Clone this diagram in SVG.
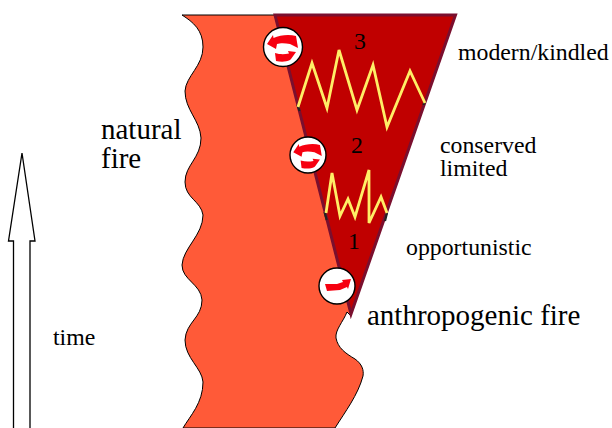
<svg xmlns="http://www.w3.org/2000/svg" width="612" height="428" viewBox="0 0 612 428">
<style>
text{font-family:"Liberation Serif","Times New Roman",serif;fill:#000}
.s{font-size:23.800px}.l{font-size:29px}.c{fill:#fff;stroke:#000;stroke-width:1.400}
.z{fill:none;stroke:#ffee66;stroke-width:2.800;stroke-linejoin:miter}
.a{fill:#f60010}
</style>
<defs>
<g id="cycle">
<path class="a" d="M-16-3 L-10-12 L-9.500-9 C-3-12 6-13 13-11 L15 1 L7-3 C2-4-3-4-6-3 L-7 2 Z"/>
<path class="a" d="M13 5 L5 4 L6 6.500 C1 7.500-3 7.500-8 6 L-7 14 C-2 15 3 15 7 13 L8 12 Z"/>
</g>
</defs>
<g id="natural-fire">
<path fill="#ff5a38" stroke="#000" stroke-width="1" d="M182 15 L285 15 L351 316 L347 312 C343 322 335 330 336 338 C338 348 345 353 355 359 C362 364 364 370 363 376 C358 395 345 412 335 428 L183 428 C190 416 203 403 203 382 C202 368 185 358 185 340 C186 322 202 318 202 300 C201 284 182 280 182 265 C183 248 203 235 203 215 C201 201 185 198 185 182 C185 165 201 158 201 138 C200 120 185 110 185 91 C186 76 203 66 203 47 C203 30 193 22 182 15 Z"/>
</g>
<g id="anthropogenic-fire">
<path fill="#c00000" stroke="#7a0f2e" stroke-width="3" d="M275 15 L455.500 15 L351 314 Z"/>
</g>
<g id="connectors">
<path d="M297.500 105 L299.500 111 M424.500 101 L423.500 105 M324.500 212 L326.700 220 M387 213 L385 221" stroke="#222" stroke-width="2.200" fill="none"/>
<path class="z" d="M298 107 L312 63 L327 108 L339 50 L357 110 L373 65 L387 127 L410 71 L425 103"/>
<path class="z" d="M326 213 L332 173 L340 216 L348 199 L355 217 L369 170 L369 223 L381 197 L387 213"/>
</g>
<g id="time-arrow">
<path fill="#fff" stroke="#000" stroke-width="1.300" d="M13.500 428 L13.500 241 L8.500 241 L22 153 L35 241 L30 241 L30 428"/>
</g>
<g id="cycle-3"><circle class="c" cx="283" cy="47" r="19.500"/><use href="#cycle" x="283" y="47"/></g>
<g id="cycle-2"><circle class="c" cx="308" cy="155" r="18"/><use href="#cycle" transform="translate(308 155) scale(.92)"/></g>
<g id="cycle-1"><circle class="c" cx="337" cy="286" r="18"/><path class="a" d="M325 284 L337 284 L343 282 L342 280 L351 279 L348 289 L347 287 L340 290 L327 291 Z"/></g>
<g id="labels">
<text class="s" x="354" y="49">3</text>
<text class="s" x="351" y="153">2</text>
<text class="s" x="348" y="249">1</text>
<text class="s" x="458" y="60">modern/kindled</text>
<text class="s"><tspan x="440" y="153">conserved</tspan><tspan x="440" y="176">limited</tspan></text>
<text class="s" x="406" y="255">opportunistic</text>
<text class="l" x="367" y="325">anthropogenic fire</text>
<text class="l"><tspan x="101" y="139">natural</tspan><tspan x="101" y="168">fire</tspan></text>
<text class="s" x="53" y="345">time</text>
</g>
</svg>
